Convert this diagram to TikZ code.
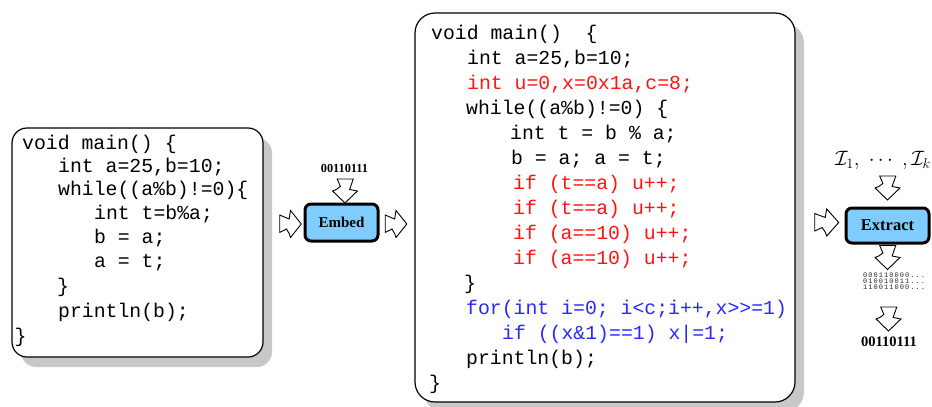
\documentclass[tikz,border=0pt]{standalone}
\usepackage{fontspec}
\setmonofont{Liberation Mono}
\newfontfamily\tms{Liberation Serif}
\newfontfamily\tinymono[LetterSpace=15]{Liberation Mono}
\usetikzlibrary{shadows}
\definecolor{codered}{RGB}{255,20,20}
\definecolor{codeblue}{RGB}{40,40,255}
\definecolor{boxblue}{RGB}{128,204,255}
\definecolor{shadowgray}{RGB}{200,200,200}
\definecolor{bitgray}{RGB}{40,40,40}
\begin{document}
\begin{tikzpicture}[x=1pt,y=-1pt,
  code/.style={anchor=mid west,inner sep=0pt,font=\fontsize{19.8}{24}\selectfont\ttfamily},
  cred/.style={code,text=codered},
  cblue/.style={code,text=codeblue},
  codebox/.style={draw=black,line width=1.2pt,fill=white,rounded corners=#1,
    drop shadow={shadow xshift=9pt,shadow yshift=-10pt,fill=shadowgray,opacity=1}},
  opbox/.style={draw=black,line width=3pt,fill=boxblue,rounded corners=6pt,inner sep=0pt},
  bits/.style={inner sep=0pt,font=\tms\bfseries},
  tinybits/.style={anchor=west,inner sep=0pt,text=bitgray,font=\fontsize{7}{7}\selectfont\tinymono},
  zapstyle/.style={draw=black,line width=0.9pt,fill=white,line join=miter},
  zap/.pic={\path[zapstyle] (-12,-9)--(-1.5,-5)--(0,-13.5)--(12,0)--(0,13.5)--(-1.5,9.5)--(-4.5,5)--(-12,8.5)--cycle;}
]
\useasboundingbox (0,0) rectangle (932,407);

% left code box
\node[codebox=15pt,minimum width=251pt,minimum height=229pt] (boxL) at (137.5,242.5) {};
\node[code] (l1) at (22,147) {void main() \{};
\node[code] (l2) at (58,170) {int a=25,b=10;};
\node[code] (l3) at (58,193) {while((a\%b)!=0)\{};
\node[code] (l4) at (94,217) {int t=b\%a;};
\node[code] (l5) at (94,241) {b = a;};
\node[code] (l6) at (94,265) {a = t;};
\node[code] (l7) at (57,290) {\}};
\node[code] (l8) at (58,315) {println(b);};
\node[code] (l9) at (14.5,340) {\}};

% middle code box
\node[codebox=20pt,minimum width=380pt,minimum height=389pt] (boxM) at (605,207.5) {};
\node[code] (m1) at (431,37) {void main()\ \ \{};
\node[code] (m2) at (467,62) {int a=25,b=10;};
\node[cred] (m3) at (467,87) {int u=0,x=0x1a,c=8;};
\node[code] (m4) at (466,112) {while((a\%b)!=0) \{};
\node[code] (m5) at (510,137) {int t = b \% a;};
\node[code] (m6) at (511,162) {b = a; a = t;};
\node[cred] (m7) at (513,187) {if (t==a) u++;};
\node[cred] (m8) at (513,212) {if (t==a) u++;};
\node[cred] (m9) at (513,237) {if (a==10) u++;};
\node[cred] (m10) at (513,262) {if (a==10) u++;};
\node[code] (m11) at (464,287) {\}};
\node[cblue] (m12) at (466,312) {for(int i=0; i<c;i++,x>>=1)};
\node[cblue] (m13) at (502,337) {if ((x\&1)==1) x|=1;};
\node[code] (m14) at (466,362) {println(b);};
\node[code] (m15) at (429,387) {\}};

% embed
\node[opbox,minimum width=73pt,minimum height=37pt,font=\fontsize{15}{18}\selectfont\tms\bfseries] (embed) at (341.5,222.5) {Embed};
\node[bits,font=\fontsize{12.3}{14}\selectfont\tms\bfseries] (wm1) at (344.5,168) {00110111};
\pic[xscale=0.92] at (345,191) [rotate=-90] {zap};
\pic[xscale=0.9] at (290.5,224) {zap};
\pic[xscale=0.9] at (396,224) {zap};

% extract
\node[opbox,minimum width=83pt,minimum height=35pt,font=\fontsize{16.5}{18}\selectfont\tms\bfseries] (extract) at (887.5,225.5) {Extract};
\node[inner sep=0pt,font=\fontsize{22}{26}\selectfont] (keys) at (883,160) {$\mathcal{I}_1,\;\cdots\;,\mathcal{I}_k$};
\pic[xscale=0.92] at (887.5,188) [rotate=-90] {zap};
\pic at (826.7,222.5) {zap};
\pic[xscale=0.92] at (887.5,257.5) [rotate=-90] {zap};
\node[tinybits] (b1) at (863,275) {000110000...};
\node[tinybits] (b2) at (863,281) {010010011...};
\node[tinybits] (b3) at (863,287) {110011000...};
\pic[xscale=0.92] at (888.5,319) [rotate=-90] {zap};
\node[bits,font=\fontsize{14.5}{16}\selectfont\tms\bfseries] (wm2) at (889,341.5) {00110111};
\end{tikzpicture}
\end{document}
